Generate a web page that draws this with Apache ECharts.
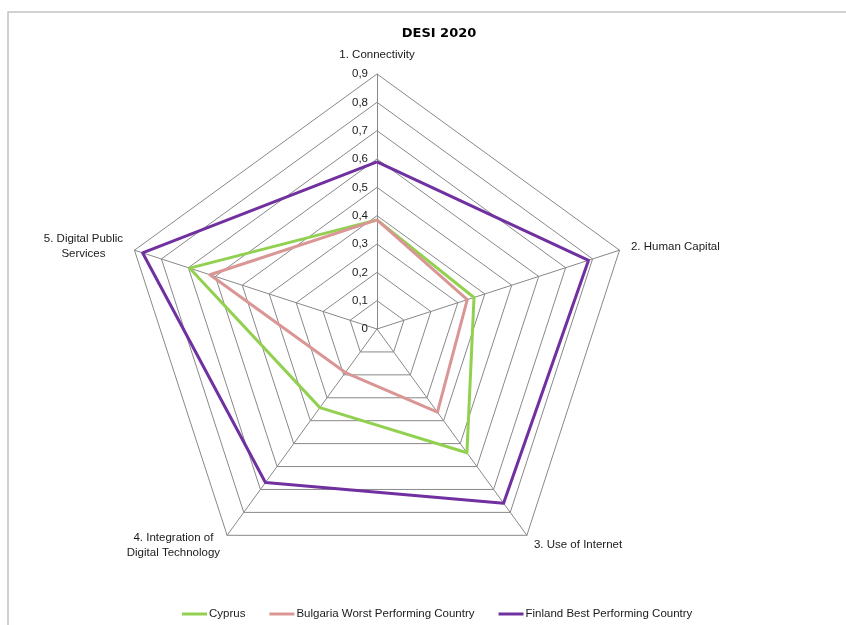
<!DOCTYPE html>
<html>
<head>
<meta charset="utf-8">
<script src="https://cdn.jsdelivr.net/npm/echarts@6/dist/echarts.min.js"></script>
<style>
html,body{margin:0;padding:0;background:#fff;}
#chart{width:846px;height:625px;}
</style>
</head>
<body>
<div id="chart"></div>
<script>
var indicators = ['1. Connectivity', '2. Human Capital', '3. Use of Internet', '4. Integration of\nDigital Technology', '5. Digital Public\nServices'];
var seriesNames = ['Cyprus', 'Bulgaria Worst Performing Country', 'Finland Best Performing Country'];
var cyprus = [0.385, 0.36, 0.54, 0.343, 0.695];
var bulgaria = [0.385, 0.335, 0.363, 0.19, 0.62];
var finland = [0.59, 0.785, 0.76, 0.67, 0.87];
var tickLabels = ['0', '0,1', '0,2', '0,3', '0,4', '0,5', '0,6', '0,7', '0,8', '0,9'];
var axisMax = 0.9;

// ECharts lays indicators counterclockwise; the reference runs clockwise.
var order = [0, 4, 3, 2, 1];
function reorder(arr) { return order.map(function (k) { return arr[k]; }); }

var FONT = "'Liberation Sans', Arial, sans-serif";
var chart = echarts.init(document.getElementById('chart'));
var colors = ['#92D050', '#D99694', '#7030A0'];
var values = [cyprus, bulgaria, finland];

chart.setOption({
  animation: false,
  title: {
    text: 'DESI 2020',
    left: 434,
    textAlign: 'center',
    top: 22,
    textStyle: { fontFamily: "'DejaVu Sans', sans-serif", fontWeight: 'bold', fontSize: 13, color: '#000' }
  },
  graphic: [{
    type: 'rect',
    shape: { x: 8, y: 12, width: 900, height: 700 },
    style: { fill: 'none', stroke: '#c4c4c4', lineWidth: 1.5 },
    silent: true
  }],
  legend: {
    data: seriesNames,
    left: 177,
    top: 603,
    icon: 'rect',
    itemWidth: 25,
    itemHeight: 3,
    itemGap: 24,
    textStyle: { fontFamily: FONT, fontSize: 11.5, color: '#1a1a1a', padding: [0, 0, 0, -3] }
  },
  radar: {
    center: [377, 329],
    radius: 255,
    shape: 'polygon',
    startAngle: 90,
    splitNumber: 9,
    nameGap: 12,
    axisName: {
      color: '#1a1a1a',
      fontFamily: FONT,
      fontSize: 11.5,
      formatter: function (v) {
        return v.split('\n').map(function (l) { return '{c|' + l + '}'; }).join('\n');
      },
      rich: { c: { align: 'center', fontFamily: FONT, fontSize: 11.5, color: '#1a1a1a', lineHeight: 15 } }
    },
    axisLine: { lineStyle: { color: '#888888', width: 1 } },
    splitLine: { lineStyle: { color: '#888888', width: 1 } },
    splitArea: { show: false },
    axisTick: { show: false },
    axisLabel: {
      show: true,
      margin: 9,
      fontFamily: FONT,
      fontSize: 11.5,
      color: '#1a1a1a',
      formatter: function (v) { return tickLabels[Math.round(v * 10)]; }
    },
    indicator: reorder(indicators).map(function (n, i) {
      var o = { name: n, min: 0, max: axisMax };
      if (i > 0) o.axisLabel = { show: false };
      return o;
    })
  },
  series: [{
    type: 'radar',
    symbol: 'none',
    data: values.map(function (v, i) {
      return {
        name: seriesNames[i],
        value: reorder(v),
        lineStyle: { color: colors[i], width: 3 },
        itemStyle: { color: colors[i] }
      };
    })
  }]
});
</script>
</body>
</html>
